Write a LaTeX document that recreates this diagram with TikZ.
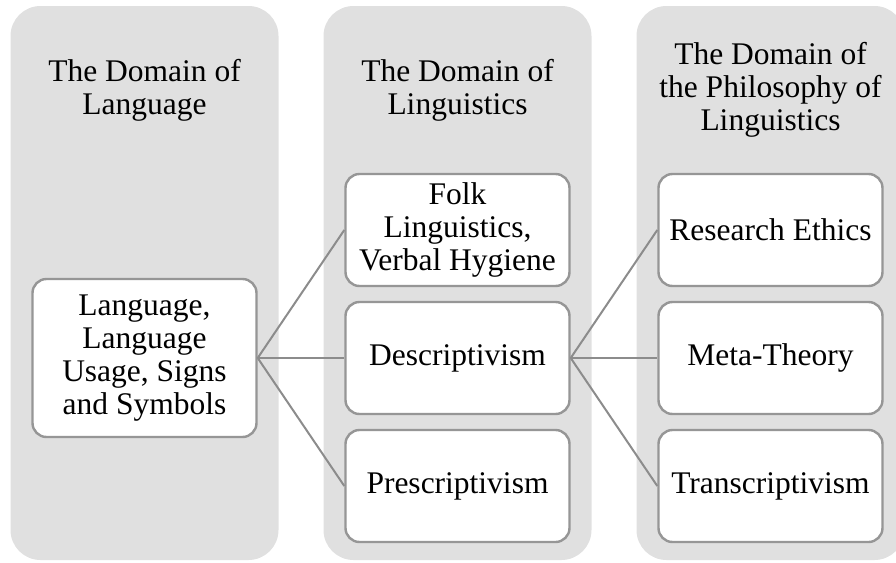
\documentclass[tikz,border=0pt]{standalone}
\usepackage{fontspec}
\setmainfont{Liberation Serif}
\usepackage{tikz}
\definecolor{domainfill}{RGB}{224,224,224}
\definecolor{boxline}{RGB}{150,150,150}
\definecolor{linkline}{RGB}{140,140,140}

\begin{document}
\begin{tikzpicture}[x=1pt,y=1pt]
\tikzstyle{domainbox}=[rectangle, rounded corners=15pt, fill=domainfill, minimum width=134pt, minimum height=277pt, node distance=156.5pt]
\tikzstyle{heading}=[align=center, font=\fontsize{15.75}{16.5}\selectfont, node distance=156.5pt]
\tikzstyle{itembox}=[rectangle, rounded corners=7pt, draw=boxline, line width=1.2pt, fill=white, align=center, inner sep=2pt, minimum width=112pt, minimum height=56pt, font=\fontsize{15.75}{16.5}\selectfont, node distance=64pt]
\tikzstyle{connect}=[draw=linkline, line width=1pt]

  \useasboundingbox (0,0) rectangle (448,-281.5);

  % the three domains
  \node[domainbox] (d1) at (72.25,-141.5) {};
  \node[domainbox] (d2) [right of =d1] {};
  \node[domainbox] (d3) [right of =d2] {};

  \node[heading] (h1) at (72.25,-45) {The Domain of\\Language};
  \node[heading] (h2) [right of =h1] {The Domain of\\Linguistics};
  \node[heading] (h3) [right of =h2] {The Domain of\\the Philosophy of\\Linguistics};

  \node[itembox, minimum height=79pt] (lang) at (72.25,-179) {Language,\\Language\\Usage, Signs\\and Symbols};
  \node[itembox] (desc) [right of =lang, node distance=156.5pt] {Descriptivism};
  \node[itembox] (folk) [above of =desc] {Folk\\Linguistics,\\Verbal Hygiene};
  \node[itembox] (presc) [below of =desc] {Prescriptivism};
  \node[itembox] (meta) [right of =desc, node distance=156.5pt] {Meta-Theory};
  \node[itembox] (ethics) [above of =meta] {Research Ethics};
  \node[itembox] (trans) [below of =meta] {Transcriptivism};

  \path (lang.east) edge [connect] (folk.west)
        (lang.east) edge [connect] (desc.west)
        (lang.east) edge [connect] (presc.west)
        (desc.east) edge [connect] (ethics.west)
        (desc.east) edge [connect] (meta.west)
        (desc.east) edge [connect] (trans.west);

\end{tikzpicture}
\end{document}
